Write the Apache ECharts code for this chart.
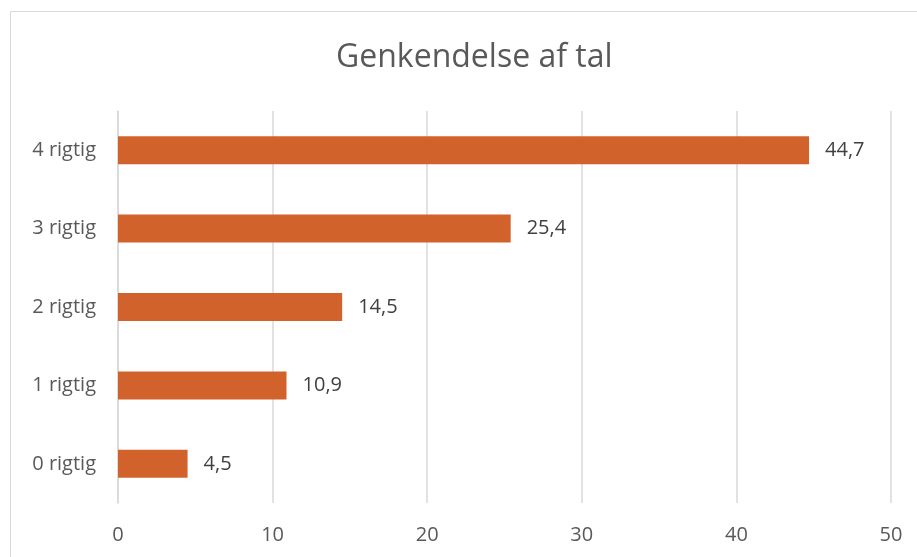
<!DOCTYPE html>
<html><head><meta charset="utf-8">
<script src="https://cdn.jsdelivr.net/npm/echarts@6/dist/echarts.min.js"></script>
<style>html,body{margin:0;padding:0;background:#fff}#c{width:917px;height:557px}</style>
</head><body><div id="c"></div>
<script>
const categories = ['0 rigtig','1 rigtig','2 rigtig','3 rigtig','4 rigtig'];
const values = [4.5, 10.9, 14.5, 25.4, 44.7];
const xTicks = [0, 10, 20, 30, 40, 50];
const title = 'Genkendelse af tal';

const chart = echarts.init(document.getElementById('c'), null, {renderer:'canvas'});
const font = 'Open Sans';
chart.setOption({
  animation:false,
  backgroundColor:'#fff',
  title:{text:title,left:331,top:37,textStyle:{fontFamily:font,fontSize:32,fontWeight:'normal',color:'#595959'}},
  graphic:[{type:'rect',shape:{x:10.5,y:11.5,width:1000,height:1000},style:{fill:null,stroke:'#d9d9d9',lineWidth:1},silent:true,z:-1}],
  grid:{left:118,right:26,top:111,bottom:54},
  xAxis:{type:'value',min:xTicks[0],max:xTicks[xTicks.length-1],interval:10,
    axisLine:{show:false},axisTick:{show:false},
    axisLabel:{fontFamily:font,fontSize:20,color:'#595959',margin:22},
    splitLine:{lineStyle:{color:'#d9d9d9',width:1.5}}},
  yAxis:{type:'category',data:categories,
    axisLine:{show:true,lineStyle:{color:'#d9d9d9',width:1.5}},axisTick:{show:false},
    axisLabel:{fontFamily:font,fontSize:20,color:'#595959',margin:22}},
  series:[{type:'bar',data:values,barWidth:28,
    itemStyle:{color:'#D2622C'},
    label:{show:true,position:'right',distance:16,fontFamily:font,fontSize:20,color:'#404040',
      formatter:p=>String(p.value).replace('.',',')}}]
});
</script></body></html>
